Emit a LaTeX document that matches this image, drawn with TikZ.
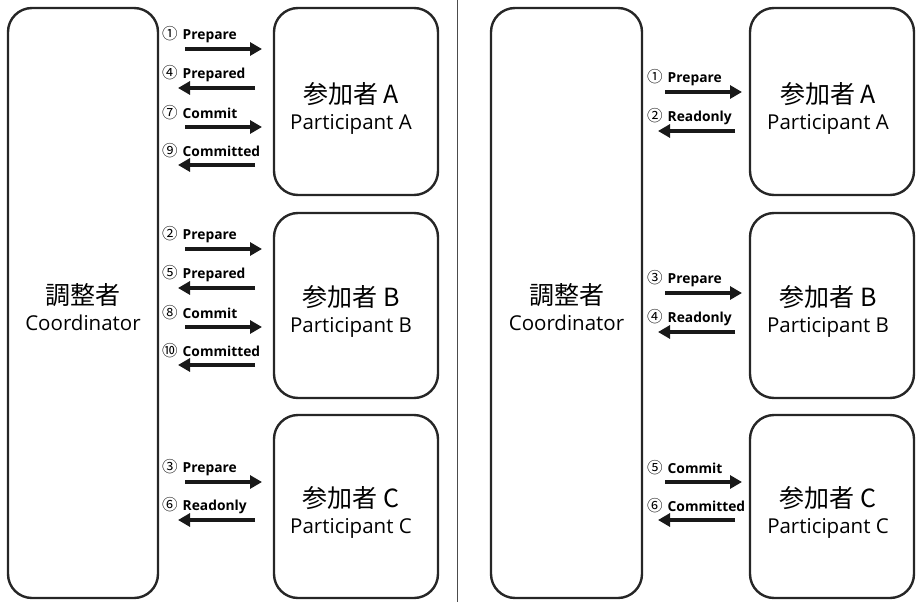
\documentclass[tikz,border=0pt]{standalone}
\usepackage{fontspec}
\setmainfont{Open Sans}
\newfontfamily\jp{Noto Sans CJK JP}
\usetikzlibrary{arrows.meta}
\begin{document}
\begin{tikzpicture}[x=1pt,y=-1pt,
  box/.style={draw=black!85,line width=2.4pt,rounded corners=24pt,inner sep=0pt},
  txt/.style={align=center,font=\fontsize{20.5}{26}\selectfont},
  msg/.style={line width=4pt,-{Triangle[length=12pt,width=13pt]},black!90},
  lbl/.style={anchor=west,inner sep=0pt,font=\fontsize{13.8}{14}\selectfont\bfseries}]
\useasboundingbox (0,0) rectangle (918,602);
\newcommand{\twol}[2]{{\jp\fontsize{25}{26}\selectfont #1}\\{#2}}
\newcommand{\cn}[1]{{\jp\mdseries\fontsize{15.5}{14}\selectfont #1}\hspace{5pt}}
% divider
\draw[line width=1pt,black!70] (457,0) -- (457,602);
% left panel boxes
\node[box,minimum width=150pt,minimum height=590pt] (LC) at (83,303) {};
\node[txt] (LCt) at (83,307) {\twol{調整者}{Coordinator}};
\node[box,minimum width=164pt,minimum height=187pt] (LA) at (356,101.5) {};
\node[box,minimum width=164pt,minimum height=185pt] (LB) at (356,305.5) {};
\node[box,minimum width=164pt,minimum height=183pt] (LCc) at (356,506.5) {};
\node[txt] (LAt) at (351,108) {\twol{参加者 A}{Participant A}};
\node[txt] (LBt) at (351,311) {\twol{参加者 B}{Participant B}};
\node[txt] (LCct) at (351,512) {\twol{参加者 C}{Participant C}};
% right panel boxes
\node[box,minimum width=151pt,minimum height=590pt] (RC) at (566.5,303) {};
\node[txt] (RCt) at (566.5,307) {\twol{調整者}{Coordinator}};
\node[box,minimum width=164pt,minimum height=187pt] (RA) at (832,101.5) {};
\node[box,minimum width=164pt,minimum height=185pt] (RB) at (832,305.5) {};
\node[box,minimum width=164pt,minimum height=183pt] (RCc) at (832,506.5) {};
\node[txt] (RAt) at (828,108) {\twol{参加者 A}{Participant A}};
\node[txt] (RBt) at (828,311) {\twol{参加者 B}{Participant B}};
\node[txt] (RCct) at (828,512) {\twol{参加者 C}{Participant C}};
% left panel messages
\foreach \y/\d/\t/\n in {49/r/{\cn{①}Prepare}/a1,88/l/{\cn{④}Prepared}/a2,127/r/{\cn{⑦}Commit}/a3,165/l/{\cn{⑨}Committed}/a4,
  249/r/{\cn{②}Prepare}/b1,288/l/{\cn{⑤}Prepared}/b2,327/r/{\cn{⑧}Commit}/b3,365/l/{\cn{⑩}Committed}/b4,
  482/r/{\cn{③}Prepare}/c1,520/l/{\cn{⑥}Readonly}/c2}{
  \coordinate (L\n s) at (185,\y);
  \coordinate (L\n e) at (262,\y);
  \coordinate (L\n t) at (178,\y);
  \coordinate (L\n u) at (255,\y);
  \node[lbl] (L\n lab) at (162,\y-14) {\t};
  \if r\d \draw[msg] (L\n s) -- (L\n e); \else \draw[msg] (L\n u) -- (L\n t); \fi
}
% right panel messages
\foreach \y/\d/\t/\n in {92/r/{\cn{①}Prepare}/a1,131/l/{\cn{②}Readonly}/a2,
  293/r/{\cn{③}Prepare}/b1,332/l/{\cn{④}Readonly}/b2,
  482/r/{\cn{⑤}Commit}/c1,520/l/{\cn{⑥}Committed}/c2}{
  \coordinate (R\n s) at (665,\y);
  \coordinate (R\n e) at (742,\y);
  \coordinate (R\n t) at (658,\y);
  \coordinate (R\n u) at (735,\y);
  \node[lbl] (R\n lab) at (647,\y-14) {\t};
  \if r\d \draw[msg] (R\n s) -- (R\n e); \else \draw[msg] (R\n u) -- (R\n t); \fi
}
\end{tikzpicture}
\end{document}
